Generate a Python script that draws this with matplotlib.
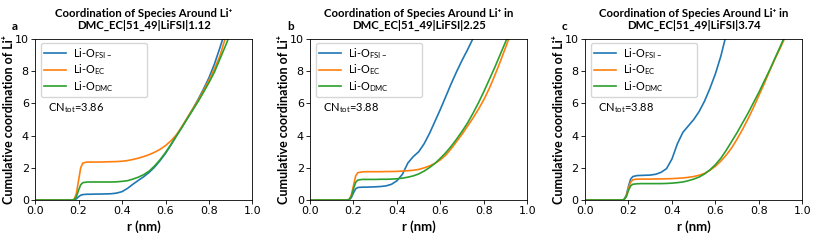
import matplotlib
matplotlib.use('Agg')
import matplotlib.pyplot as plt

# r grid (nm) shared by all curves
r = [0.0, 0.17, 0.18, 0.19, 0.20, 0.21, 0.22, 0.24, 0.26, 0.28, 0.30, 0.325, 0.35, 0.375,
     0.40, 0.425, 0.45, 0.475, 0.50, 0.525, 0.55, 0.575, 0.60, 0.625, 0.65, 0.675, 0.70,
     0.725, 0.75, 0.775, 0.80, 0.825, 0.85, 0.875, 0.90, 0.925, 0.95, 0.975, 1.0]

# panel a : LiFSI 1.12
a_fsi = [0, 0, 0.01, 0.07, 0.20, 0.30, 0.34, 0.36, 0.36, 0.37, 0.37, 0.38, 0.39, 0.43,
         0.52, 0.72, 0.98, 1.22, 1.45, 1.72, 2.05, 2.45, 2.90, 3.42, 3.98, 4.52, 5.08,
         5.65, 6.25, 6.90, 7.60, 8.45, 9.45, 10.5, 11.6, 12.7, 13.8, 15.0, 16.2]
a_ec = [0, 0, 0.05, 0.40, 1.20, 2.00, 2.30, 2.36, 2.36, 2.36, 2.36, 2.37, 2.38, 2.39,
        2.41, 2.45, 2.52, 2.60, 2.70, 2.82, 2.97, 3.15, 3.38, 3.68, 4.05, 4.55, 5.10,
        5.65, 6.20, 6.80, 7.45, 8.15, 8.95, 10.05, 11.1, 12.2, 13.3, 14.4, 15.6]
a_dmc = [0, 0, 0.03, 0.20, 0.60, 0.95, 1.08, 1.12, 1.12, 1.12, 1.12, 1.12, 1.12, 1.13,
         1.16, 1.20, 1.30, 1.42, 1.58, 1.80, 2.12, 2.50, 2.95, 3.45, 3.98, 4.50, 5.05,
         5.58, 6.12, 6.70, 7.30, 7.95, 8.75, 9.55, 10.4, 11.3, 12.2, 13.2, 14.2]

# panel b : LiFSI 2.25
b_fsi = [0, 0, 0.02, 0.15, 0.45, 0.70, 0.78, 0.80, 0.80, 0.81, 0.82, 0.84, 0.88, 0.98,
         1.20, 1.60, 2.30, 2.70, 3.00, 3.50, 4.15, 4.90, 5.65, 6.45, 7.25, 8.00, 8.70,
         9.35, 10.05, 10.8, 11.6, 12.4, 13.2, 14.0, 14.8, 15.6, 16.4, 17.2, 18.0]
b_ec = [0, 0, 0.04, 0.30, 0.90, 1.50, 1.70, 1.75, 1.76, 1.76, 1.76, 1.76, 1.77, 1.77,
        1.78, 1.80, 1.82, 1.85, 1.90, 2.00, 2.12, 2.28, 2.50, 2.80, 3.20, 3.65, 4.10,
        4.60, 5.10, 5.65, 6.25, 6.95, 7.75, 8.60, 9.50, 10.4, 11.3, 12.2, 13.2]
b_dmc = [0, 0, 0.03, 0.22, 0.70, 1.10, 1.24, 1.28, 1.28, 1.28, 1.28, 1.29, 1.29, 1.30,
         1.32, 1.36, 1.42, 1.50, 1.62, 1.80, 2.02, 2.28, 2.60, 2.95, 3.35, 3.80, 4.28,
         4.80, 5.40, 6.05, 6.75, 7.50, 8.25, 9.05, 9.85, 10.7, 11.6, 12.5, 13.4]

# panel c : LiFSI 3.74
c_fsi = [0, 0, 0.04, 0.30, 0.85, 1.30, 1.46, 1.52, 1.53, 1.54, 1.55, 1.60, 1.72, 1.95,
         2.55, 3.50, 4.20, 4.60, 5.00, 5.50, 6.15, 6.95, 7.85, 8.95, 10.3, 11.5, 12.7,
         13.9, 15.1, 16.3, 17.5, 18.7, 19.9, 21.1, 22.3, 23.5, 24.7, 25.9, 27.1]
c_ec = [0, 0, 0.03, 0.25, 0.75, 1.10, 1.26, 1.30, 1.30, 1.30, 1.30, 1.31, 1.31, 1.32,
        1.33, 1.35, 1.37, 1.41, 1.46, 1.54, 1.66, 1.85, 2.10, 2.42, 2.80, 3.25, 3.80,
        4.40, 5.05, 5.75, 6.50, 7.25, 8.05, 8.80, 9.50, 10.25, 11.0, 11.8, 12.6]
c_dmc = [0, 0, 0.03, 0.20, 0.60, 0.88, 0.98, 1.01, 1.02, 1.02, 1.02, 1.02, 1.02, 1.03,
         1.05, 1.08, 1.12, 1.20, 1.30, 1.43, 1.62, 1.88, 2.20, 2.60, 3.10, 3.65, 4.20,
         4.80, 5.40, 6.05, 6.70, 7.40, 8.10, 8.85, 9.60, 10.35, 11.1, 11.9, 12.7]

panels = ['a', 'b', 'c']
titles = ['Coordination of Species Around Li\u207a\nDMC_EC|51_49|LiFSI|1.12',
          'Coordination of Species Around Li\u207a in\nDMC_EC|51_49|LiFSI|2.25',
          'Coordination of Species Around Li\u207a in\nDMC_EC|51_49|LiFSI|3.74']
cn_tot = ['3.86', '3.88', '3.88']
series = [(a_fsi, a_ec, a_dmc), (b_fsi, b_ec, b_dmc), (c_fsi, c_ec, c_dmc)]
labels = ['Li-O$_{\\mathrm{FSI-}}$', 'Li-O$_{\\mathrm{EC}}$', 'Li-O$_{\\mathrm{DMC}}$']
colors = ['#1f77b4', '#ff7f0e', '#2ca02c']

txt_font = ['Lato', 'DejaVu Sans']
plt.rcParams['mathtext.fontset'] = 'custom'
plt.rcParams['mathtext.rm'] = 'Lato'

fig = plt.figure(figsize=(8.3, 2.41), dpi=100)
lefts = [0.0422, 0.3735, 0.7048]

for i in range(3):
    ax = fig.add_axes([lefts[i], 0.170, 0.262, 0.668])
    for y, lab, col in zip(series[i], labels, colors):
        ax.plot(r, y, color=col, lw=1.2, label=lab)
    ax.set_xlim(0, 1)
    ax.set_ylim(0, 10)
    ax.set_xticks([0.0, 0.2, 0.4, 0.6, 0.8, 1.0])
    ax.set_yticks([0, 2, 4, 6, 8, 10])
    ax.tick_params(labelsize=8, length=3, width=0.6, pad=1.5)
    for s in ax.spines.values():
        s.set_linewidth(0.6)
    ax.set_xlabel('r (nm)', fontsize=9.5, fontweight='bold', family=txt_font, labelpad=3)
    ax.set_ylabel('Cumulative coordination of Li\u207a', fontsize=9, fontweight='bold',
                  family=txt_font, labelpad=0)
    ax.set_title(titles[i], fontsize=8.2, fontweight='bold', family=txt_font, pad=7,
                 linespacing=1.12)
    fig.text(lefts[i] - 0.028, 1 - 27 / 241, panels[i], fontsize=8.5,
             fontweight='bold', family=txt_font, va='center')
    ax.legend(loc='upper left', bbox_to_anchor=(0.026, 0.688, 0.488, 0.289),
              mode='expand', borderaxespad=0, prop={'family': txt_font, 'size': 7.8},
              handlelength=2.0, handletextpad=0.7, labelspacing=0.15, borderpad=0.3)
    ax.text(0.061, 0.573, 'CN$_{\\mathrm{tot}}$=' + cn_tot[i], transform=ax.transAxes,
            fontsize=8, family=txt_font, va='center')

fig.savefig('out.png', dpi=100)
